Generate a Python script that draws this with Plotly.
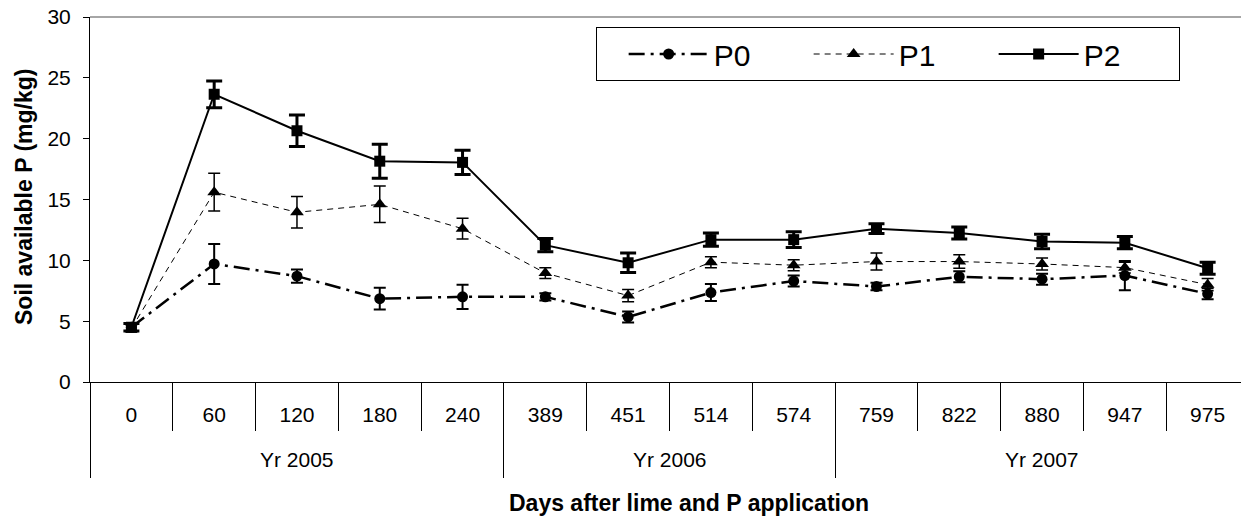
import plotly.graph_objects as go

days = ["0", "60", "120", "180", "240", "389", "451", "514", "574",
        "759", "822", "880", "947", "975"]
years = ["Yr 2005", "Yr 2006", "Yr 2007"]
year_counts = [5, 4, 5]

P0 = [4.5, 9.7, 8.7, 6.85, 7.0, 7.0, 5.35, 7.35, 8.3, 7.85, 8.65, 8.45, 8.75, 7.25]
P0_err = [0.3, 1.65, 0.55, 0.9, 1.0, 0.3, 0.45, 0.7, 0.45, 0.3, 0.45, 0.45, 1.2, 0.45]
P1 = [4.4, 15.6, 13.95, 14.6, 12.6, 8.95, 7.1, 9.85, 9.6, 9.9, 9.9, 9.7, 9.4, 8.0]
P1_err = [0.3, 1.55, 1.3, 1.5, 0.85, 0.45, 0.5, 0.45, 0.45, 0.7, 0.55, 0.5, 0.45, 0.5]
P2 = [4.5, 23.65, 20.65, 18.15, 18.05, 11.25, 9.8, 11.7, 11.7, 12.6, 12.25, 11.55, 11.45, 9.35]
P2_err = [0.3, 1.1, 1.3, 1.4, 1.0, 0.55, 0.8, 0.55, 0.65, 0.4, 0.5, 0.6, 0.5, 0.5]

FONT = "Liberation Sans, Arial, sans-serif"

fig = go.Figure()

series = [
    ("P0", P0, P0_err, "circle", 11, dict(color="black", width=2.5, dash="16px,6px,3px,6px"), 2, 6),
    ("P1", P1, P1_err, "triangle-up", 12, dict(color="black", width=1, dash="6px,5px"), 1.5, 6),
    ("P2", P2, P2_err, "square", 11, dict(color="black", width=2), 3, 8),
]
for name, vals, errs, sym, msize, line, eth, ew in series:
    fig.add_trace(go.Scatter(
        x=days, y=vals, name=name, mode="lines+markers",
        line=line,
        marker=dict(symbol=sym, size=msize, color="black"),
        error_y=dict(type="data", array=errs, visible=True, color="black",
                     thickness=eth, width=ew),
    ))

n = len(days)
xmin, xmax = -0.5, n - 0.5 - 0.097

# group boundaries and centers from the year counts
bounds = [-0.5]
for c in year_counts:
    bounds.append(bounds[-1] + c)
centers = [(bounds[i] + bounds[i + 1]) / 2 for i in range(len(years))]

fig.update_layout(
    width=1241, height=518,
    margin=dict(l=90, r=0, t=17, b=136),
    plot_bgcolor="white", paper_bgcolor="white",
    font=dict(family=FONT, color="black", size=21),
    xaxis=dict(
        type="category", range=[xmin, xmax],
        showline=True, linecolor="black", linewidth=1,
        ticks="outside", tickson="boundaries", ticklen=48,
        tickcolor="black", tickwidth=1,
        showgrid=False, zeroline=False,
        tickfont=dict(size=21, family=FONT),
        ticklabelstandoff=14,
    ),
    xaxis2=dict(
        overlaying="x", anchor="y", side="bottom",
        range=[xmin, xmax], tickmode="array", tickvals=bounds,
        showticklabels=False, ticks="outside", ticklen=95,
        tickcolor="black", tickwidth=1, showline=False,
        showgrid=False, zeroline=False,
    ),
    yaxis=dict(
        range=[0, 30], tickmode="array", tickvals=[0, 5, 10, 15, 20, 25, 30],
        showline=True, linecolor="black", linewidth=1,
        ticks="outside", ticklen=6, tickcolor="black",
        showgrid=False, zeroline=False,
        tickfont=dict(size=21, family=FONT),
        ticklabelstandoff=8,
    ),
    legend=dict(
        orientation="h", x=0.4396, xanchor="left", y=0.9726, yanchor="top",
        bordercolor="black", borderwidth=1, bgcolor="white",
        font=dict(size=30, family=FONT), itemwidth=80, entrywidth=90,
        title=dict(text="&nbsp;&nbsp;", side="left", font=dict(size=30, family=FONT)),
    ),
    showlegend=True,
)

for yr, cx in zip(years, centers):
    fig.add_annotation(x=cx, xref="x2", y=-0.211, yref="paper", text=yr,
                       showarrow=False, font=dict(size=21, family=FONT),
                       xanchor="center", yanchor="middle")

fig.add_annotation(x=0.5204, xref="paper", y=-0.3315, yref="paper",
                   text="<b>Days after lime and P application</b>",
                   showarrow=False, font=dict(size=23, family=FONT),
                   xanchor="center", yanchor="middle")
fig.add_annotation(x=-0.0573, xref="paper", y=0.507, yref="paper",
                   text="<b>Soil available P (mg/kg)</b>", textangle=-90,
                   showarrow=False, font=dict(size=23, family=FONT),
                   xanchor="center", yanchor="middle")

fig.add_shape(type="line", xref="paper", yref="paper", x0=0, x1=1, y0=1, y1=1,
              line=dict(color="#888888", width=1.5))

fig.write_html("out.html")
